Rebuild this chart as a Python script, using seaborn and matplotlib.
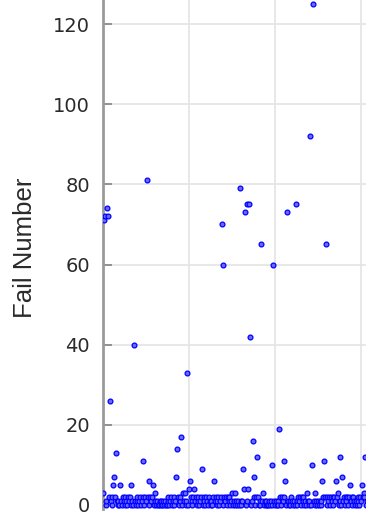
import matplotlib
matplotlib.use("Agg")
import matplotlib.pyplot as plt
import seaborn as sns
import pandas as pd

# fail count per test run (index = run number)
fail_number = [
    3, 71, 72, 0, 1, 74, 72, 2, 26, 1,
    2, 0, 5, 7, 2, 13, 1, 0, 1, 0,
    5, 1, 0, 2, 1, 0, 2, 1, 0, 2,
    1, 2, 0, 5, 1, 0, 40, 1, 0, 1,
    2, 0, 1, 2, 0, 1, 2, 11, 0, 2,
    1, 81, 2, 6, 0, 2, 1, 2, 5, 0,
    3, 1, 0, 1, 0, 0, 1, 0, 1, 0,
    1, 0, 1, 0, 0, 1, 2, 0, 1, 2,
    0, 1, 2, 0, 1, 7, 14, 2, 0, 1,
    2, 17, 0, 3, 1, 3, 0, 1, 33, 0,
    4, 6, 2, 1, 0, 2, 4, 1, 2, 0,
    1, 2, 0, 1, 2, 9, 0, 2, 1, 0,
    2, 1, 0, 2, 1, 0, 1, 0, 2, 6,
    1, 2, 0, 1, 2, 0, 1, 2, 70, 60,
    0, 2, 1, 2, 0, 2, 1, 2, 0, 1,
    3, 0, 1, 3, 0, 1, 0, 1, 0, 79,
    1, 0, 1, 9, 4, 73, 0, 75, 1, 4,
    75, 42, 0, 1, 16, 7, 2, 0, 2, 12,
    2, 0, 1, 0, 65, 1, 3, 0, 1, 0,
    1, 0, 0, 1, 0, 1, 0, 10, 60, 1,
    0, 1, 0, 1, 0, 19, 2, 0, 2, 1,
    2, 11, 6, 0, 73, 1, 0, 1, 0, 2,
    1, 0, 1, 0, 75, 1, 0, 2, 1, 2,
    0, 2, 1, 2, 0, 1, 0, 3, 1, 0,
    1, 92, 0, 10, 125, 1, 3, 0, 1, 0,
    1, 0, 1, 0, 1, 6, 2, 11, 2, 65,
    2, 0, 1, 2, 0, 2, 1, 2, 0, 2,
    1, 6, 2, 3, 0, 1, 12, 0, 7, 1,
    2, 0, 2, 1, 2, 0, 2, 5, 1, 2,
    0, 2, 1, 0, 1, 0, 1, 2, 0, 2,
    1, 5, 2, 3, 2, 12, 0, 1,
]
run = list(range(len(fail_number)))
y_ticks = [0, 20, 40, 60, 80, 100, 120]
x_ticks = [0, 100, 200, 300]

df = pd.DataFrame({"run": run, "fail": fail_number})

sns.set_style("whitegrid")

fig = plt.figure(figsize=(3.66, 5.15), dpi=100)
ax = fig.add_axes([103 / 366, 6 / 515, 263 / 366, 509 / 515])

sns.scatterplot(data=df, x="run", y="fail", ax=ax, color="#6a6aff",
                edgecolor="#0000ff", linewidth=0.9, s=12, zorder=3)

ax.set_xlim(0, 305.8)
ax.set_ylim(-1, 126)
ax.set_yticks(y_ticks)
ax.set_xticks(x_ticks)
ax.set_xticklabels([])
ax.set_xlabel("")
ax.set_ylabel("")

ax.grid(True, color="#e4e4e4", linewidth=1.2)
for side in ["top", "right", "bottom"]:
    ax.spines[side].set_visible(False)
ax.spines["left"].set_color("#9a9a9a")
ax.spines["left"].set_linewidth(2)

ax.tick_params(axis="y", direction="in", length=6.5, width=1.3, color="#8a8a8a",
               pad=9.4, labelsize=14, labelcolor="#2a2a2a", left=True)
ax.tick_params(axis="x", length=0)

fig.text(25 / 366, 1 - 248 / 515, "Fail Number", rotation=90, ha="center", va="center",
         fontsize=18.5, family=["Liberation Sans", "DejaVu Sans"], color="#2a2a2a")

fig.savefig("out.png", dpi=100)
